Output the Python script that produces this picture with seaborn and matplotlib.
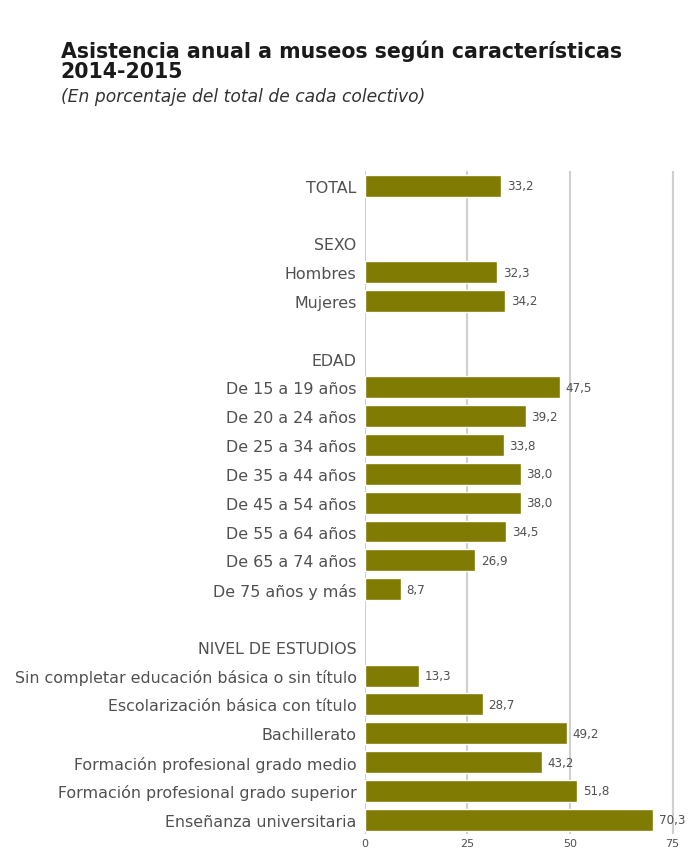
import numpy as np
import pandas as pd
import matplotlib
matplotlib.use("Agg")
import matplotlib.pyplot as plt
import seaborn as sns

# rows of the chart, top to bottom (headings and spacer rows have no value)
labels = [
    "TOTAL", " ", "SEXO", "Hombres", "Mujeres", "  ", "EDAD",
    "De 15 a 19 años", "De 20 a 24 años", "De 25 a 34 años", "De 35 a 44 años",
    "De 45 a 54 años", "De 55 a 64 años", "De 65 a 74 años", "De 75 años y más",
    "   ", "NIVEL DE ESTUDIOS",
    "Sin completar educación básica o sin título",
    "Escolarización básica con título",
    "Bachillerato",
    "Formación profesional grado medio",
    "Formación profesional grado superior",
    "Enseñanza universitaria",
]
values = [
    33.2, np.nan, np.nan, 32.3, 34.2, np.nan, np.nan,
    47.5, 39.2, 33.8, 38.0, 38.0, 34.5, 26.9, 8.7,
    np.nan, np.nan,
    13.3, 28.7, 49.2, 43.2, 51.8, 70.3,
]
x_ticks = [0, 25, 50, 75]

title = "Asistencia anual a museos según características\n2014-2015"
subtitle = "(En porcentaje del total de cada colectivo)"

bar_color = "#807b03"
text_color = "#505050"

df = pd.DataFrame({"label": labels, "value": values})

sns.set_theme(style="white")
plt.rcParams["font.family"] = ["DejaVu Sans"]

fig = plt.figure(figsize=(6.91, 8.53), dpi=100)
ax = fig.add_axes([0.528, 0.021, 0.472, 0.777])

sns.barplot(data=df, x="value", y="label", order=labels, color=bar_color,
            saturation=1, width=0.76, ax=ax)

# value labels just right of each bar
for i, v in enumerate(values):
    if np.isnan(v):
        continue
    ax.annotate(f"{v:.1f}".replace(".", ","), (v, i), xytext=(4, 0),
                textcoords="offset points", va="center", ha="left",
                fontsize=8.6, color=text_color, annotation_clip=False)

ax.set_xlim(0, 79.5)
ax.set_ylim(len(labels) - 0.5, -0.5)
ax.set_xticks(x_ticks)
ax.set_xticklabels([str(t) for t in x_ticks], fontsize=8, color=text_color)
ax.set_yticks(range(len(labels)))
ax.set_yticklabels([l.strip() for l in labels], fontsize=11.4, color=text_color)
ax.tick_params(axis="y", length=0, pad=6)
ax.tick_params(axis="x", length=0, pad=3)
ax.set_xlabel("")
ax.set_ylabel("")

for t in x_ticks:
    ax.axvline(t, color="#cfcfcf", lw=1.5, zorder=0)
for s in ax.spines.values():
    s.set_visible(False)

fig.text(0.088, 0.953, title, fontsize=14.8, fontweight="bold", color="#1a1a1a",
         va="top", linespacing=1.05)
fig.text(0.088, 0.897, subtitle, fontsize=12.3, style="italic", color="#333333", va="top")

fig.savefig("out.png", dpi=100)
